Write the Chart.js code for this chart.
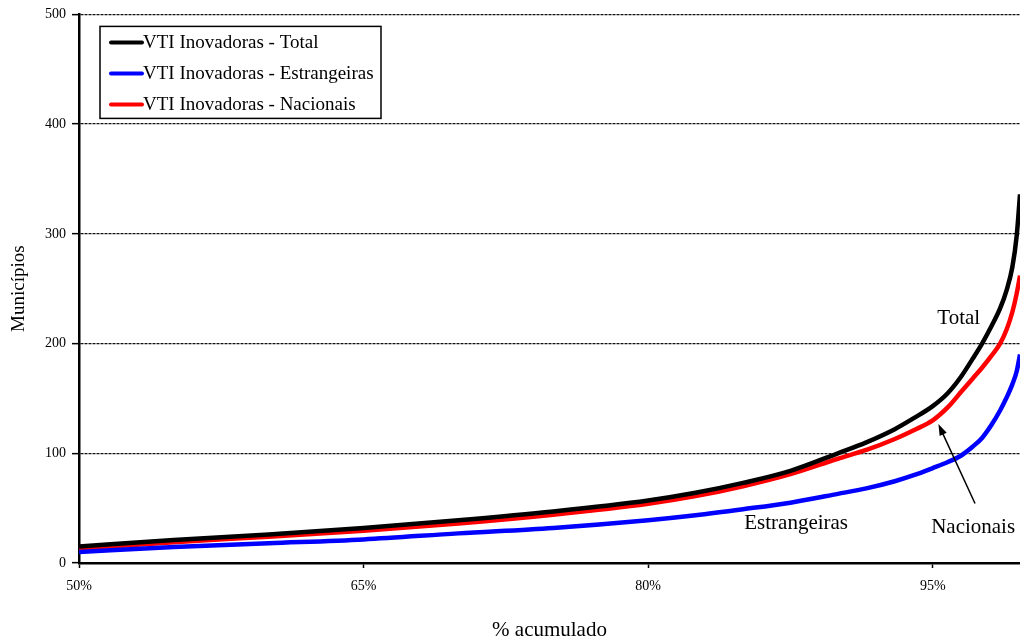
<!DOCTYPE html>
<html lang="pt-BR">
<head>
<meta charset="utf-8">
<title>VTI Inovadoras - Municípios</title>
<script src="https://cdn.jsdelivr.net/npm/chart.js@4.4.1/dist/chart.umd.min.js"></script>
<style>
    html, body { margin: 0; padding: 0; background: #fff; }
    canvas { display: block; }
</style>
</head>
<body>
<canvas id="vtiChart" width="1020" height="642"></canvas>
<script>
/* ============================================================
   Curvas de VTI acumulado
   ============================================================ */

// % acumulado (eixo x)
const percentuais = [50, 55, 60, 65, 70, 75, 80, 82.5, 85, 87.5, 90, 91.5, 93, 94, 95,
                     95.8, 96.5, 97.1, 97.6, 98.1, 98.55, 98.9, 99.2, 99.43, 99.6];

// Municípios (eixo y) por série
const vtiTotal        = [15, 21, 26, 32, 39, 47, 57, 64, 73, 84, 100, 110, 122, 132, 143,
                         155, 170, 186, 200, 216, 232, 249, 270, 299, 336];
const vtiEstrangeiras = [10, 14.5, 18, 21.5, 27, 32, 39, 43.5, 49, 55, 63, 68, 74.5, 80, 86.5,
                         92, 98, 106, 114, 126, 139, 151, 163, 175, 190];
const vtiNacionais    = [13, 19, 24, 29.5, 36, 44, 54, 61, 70, 81, 95, 103, 113, 121, 130,
                         142, 156, 168, 178, 189, 200, 213, 229, 246, 262];

const nomesSeries = ['VTI Inovadoras - Total', 'VTI Inovadoras - Estrangeiras', 'VTI Inovadoras - Nacionais'];
const coresSeries = ['#000000', '#0000ff', '#ff0000'];

// Rótulos dos eixos
const ticksX = [50, 65, 80, 95];
const ticksY = [0, 100, 200, 300, 400, 500];

// Anotações (em unidades dos eixos)
const notasTexto = ['Total', 'Estrangeiras', 'Nacionais'];
const notasX = [96.37, 87.8, 97.13];
const notasY = [222.7, 35.6, 32];
const setaInicio = [97.23, 54.2];
const setaFim = [95.3, 126.6];

const FONTE = '"Liberation Serif", "Times New Roman", serif';

/**
 * Monta os pontos {x, y} de uma série
 */
function pontos(valores) {
    return percentuais.map((p, i) => ({ x: p, y: valores[i] }));
}

/**
 * Legenda com moldura, desenhada dentro da área do gráfico
 */
const legendaCaixa = {
    id: 'legendaCaixa',
    afterDraw(chart) {
        const ctx = chart.ctx;
        const area = chart.chartArea;
        const x0 = area.left + 21;
        const y0 = area.top + 12;

        ctx.save();
        ctx.fillStyle = '#fff';
        ctx.fillRect(x0, y0, 281, 92);
        ctx.lineWidth = 1.5;
        ctx.strokeStyle = '#000';
        ctx.strokeRect(x0, y0, 281, 92);

        ctx.font = '19px ' + FONTE;
        ctx.textBaseline = 'middle';
        chart.data.datasets.forEach((ds, i) => {
            const y = y0 + 16 + i * 31;
            ctx.strokeStyle = ds.borderColor;
            ctx.lineWidth = 4;
            ctx.lineCap = 'round';
            ctx.beginPath();
            ctx.moveTo(x0 + 11, y);
            ctx.lineTo(x0 + 42, y);
            ctx.stroke();
            ctx.fillStyle = '#000';
            ctx.fillText(ds.label, x0 + 43, y + 1);
        });
        ctx.restore();
    }
};

/**
 * Textos das curvas e seta indicando "Nacionais"
 */
const anotacoes = {
    id: 'anotacoes',
    afterDatasetsDraw(chart) {
        const ctx = chart.ctx;
        const sx = chart.scales.x;
        const sy = chart.scales.y;

        ctx.save();
        ctx.font = '21px ' + FONTE;
        ctx.fillStyle = '#000';
        ctx.textAlign = 'center';
        ctx.textBaseline = 'middle';
        notasTexto.forEach((t, i) => {
            ctx.fillText(t, sx.getPixelForValue(notasX[i]), sy.getPixelForValue(notasY[i]));
        });

        const x1 = sx.getPixelForValue(setaInicio[0]);
        const y1 = sy.getPixelForValue(setaInicio[1]);
        const x2 = sx.getPixelForValue(setaFim[0]);
        const y2 = sy.getPixelForValue(setaFim[1]);
        const ang = Math.atan2(y2 - y1, x2 - x1);

        ctx.strokeStyle = '#000';
        ctx.lineWidth = 1.5;
        ctx.beginPath();
        ctx.moveTo(x1, y1);
        ctx.lineTo(x2 - 8 * Math.cos(ang), y2 - 8 * Math.sin(ang));
        ctx.stroke();

        ctx.beginPath();
        ctx.moveTo(x2, y2);
        ctx.lineTo(x2 - 12 * Math.cos(ang - 0.33), y2 - 12 * Math.sin(ang - 0.33));
        ctx.lineTo(x2 - 12 * Math.cos(ang + 0.33), y2 - 12 * Math.sin(ang + 0.33));
        ctx.closePath();
        ctx.fill();
        ctx.restore();
    }
};

document.addEventListener('DOMContentLoaded', function() {
    Chart.defaults.font.family = FONTE;
    Chart.defaults.color = '#000';

    const series = [vtiTotal, vtiEstrangeiras, vtiNacionais];

    new Chart(document.getElementById('vtiChart'), {
        type: 'line',
        data: {
            datasets: series.map((valores, i) => ({
                label: nomesSeries[i],
                data: pontos(valores),
                borderColor: coresSeries[i],
                backgroundColor: coresSeries[i],
                borderWidth: 4.5,
                pointRadius: 0,
                fill: false,
                cubicInterpolationMode: 'monotone'
            }))
        },
        options: {
            responsive: false,
            animation: false,
            devicePixelRatio: 1,
            layout: { padding: { top: 13, right: 0, bottom: 0, left: 0 } },
            plugins: {
                legend: { display: false },
                tooltip: { enabled: false }
            },
            scales: {
                x: {
                    type: 'linear',
                    min: 50,
                    max: 99.6,
                    afterBuildTicks: (scale) => {
                        scale.ticks = ticksX.map(v => ({ value: v }));
                    },
                    afterFit: (scale) => { scale.height = 79; },
                    ticks: {
                        font: { size: 14 },
                        padding: 10,
                        maxRotation: 0,
                        callback: (v) => v + '%'
                    },
                    grid: {
                        drawOnChartArea: false,
                        tickLength: 5,
                        tickColor: '#000',
                        tickWidth: 1.5
                    },
                    border: { color: '#000', width: 2.5 },
                    title: {
                        display: true,
                        text: '% acumulado',
                        font: { size: 21, lineHeight: 1.1 },
                        padding: { top: 0, bottom: 0 }
                    }
                },
                y: {
                    min: 0,
                    max: 500,
                    afterBuildTicks: (scale) => {
                        scale.ticks = ticksY.map(v => ({ value: v }));
                    },
                    afterFit: (scale) => { scale.width = 79; },
                    ticks: {
                        font: { size: 14 },
                        padding: 6
                    },
                    grid: {
                        color: '#111',
                        lineWidth: 1.3,
                        tickLength: 7,
                        tickColor: '#000',
                        tickWidth: 1.5,
                        tickBorderDash: []
                    },
                    border: { color: '#000', width: 2.5, dash: [3, 1] },
                    title: {
                        display: true,
                        text: 'Municípios',
                        font: { size: 19 },
                        padding: { top: 8, bottom: 0 }
                    }
                }
            }
        },
        plugins: [anotacoes, legendaCaixa]
    });
});
</script>
</body>
</html>
